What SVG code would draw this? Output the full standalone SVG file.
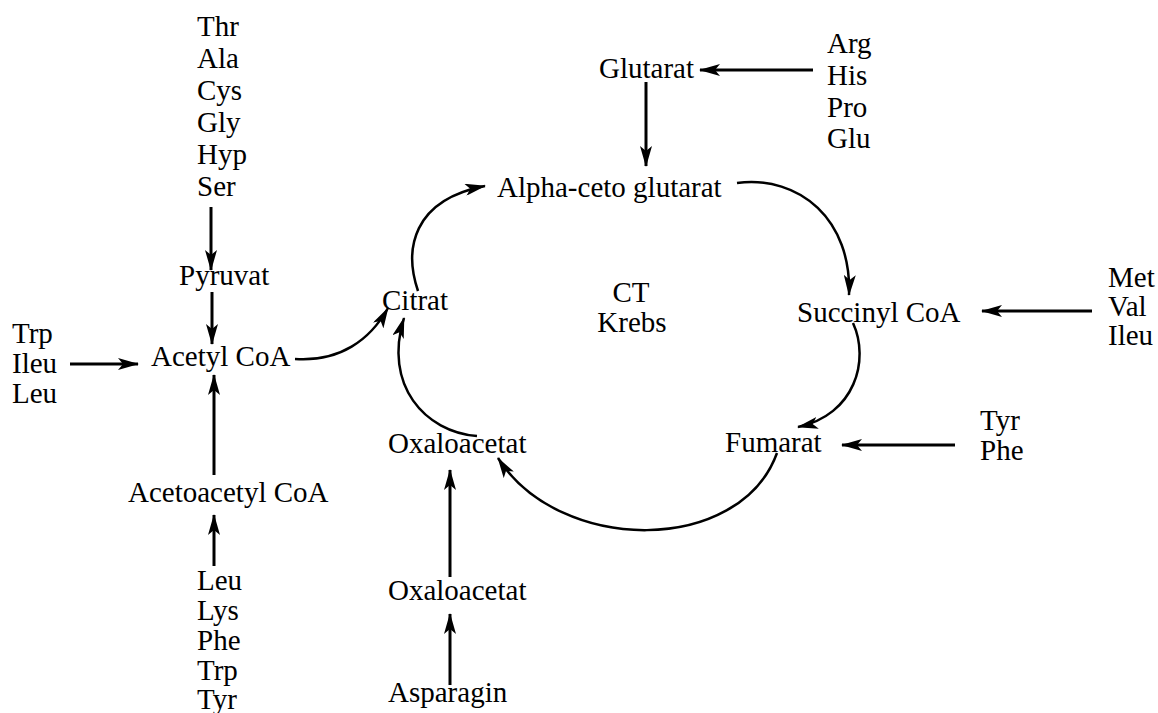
<svg xmlns="http://www.w3.org/2000/svg" width="1158" height="713" viewBox="0 0 1158 713">
<defs>
<style>
text{font-family:"Liberation Serif","Times New Roman",serif;font-size:29px;fill:#000}
.ln{fill:none;stroke:#000;stroke-width:3}
.cv{fill:none;stroke:#000;stroke-width:2.5}
</style>
<marker id="ah" markerUnits="userSpaceOnUse" markerWidth="22" markerHeight="12" refX="20" refY="6" orient="auto" viewBox="0 0 22 12">
<path d="M0,0 L21,6 L0,12 L5,6 Z" fill="#000"/>
</marker>
</defs>
<rect width="1158" height="713" fill="#fff"/>
<g id="connectors">
<line class="ln" x1="211" y1="207" x2="211" y2="270" marker-end="url(#ah)"/>
<line class="ln" x1="212" y1="292" x2="212" y2="344" marker-end="url(#ah)"/>
<line class="ln" x1="70" y1="364" x2="138" y2="364" marker-end="url(#ah)"/>
<line class="ln" x1="214" y1="475" x2="214" y2="375" marker-end="url(#ah)"/>
<line class="ln" x1="214" y1="566" x2="214" y2="515" marker-end="url(#ah)"/>
<line class="ln" x1="813" y1="70" x2="700" y2="70" marker-end="url(#ah)"/>
<line class="ln" x1="646" y1="82" x2="646" y2="166" marker-end="url(#ah)"/>
<line class="ln" x1="1092" y1="311" x2="982" y2="311" marker-end="url(#ah)"/>
<line class="ln" x1="955" y1="445" x2="842" y2="445" marker-end="url(#ah)"/>
<line class="ln" x1="450" y1="577" x2="450" y2="470" marker-end="url(#ah)"/>
<line class="ln" x1="450" y1="685" x2="450" y2="614" marker-end="url(#ah)"/>
<path class="cv" d="M295,359 C340,362 370,340 388,308" marker-end="url(#ah)"/>
<path class="cv" d="M418,291 C404,250 412,200 485,186" marker-end="url(#ah)"/>
<path class="cv" d="M737,183 C800,175 852,220 849,295" marker-end="url(#ah)"/>
<path class="cv" d="M853,323 C870,360 855,415 798,427" marker-end="url(#ah)"/>
<path class="cv" d="M777,453 C740,555 560,555 498,458" marker-end="url(#ah)"/>
<path class="cv" d="M477,436 C425,432 383,385 404,318" marker-end="url(#ah)"/>
</g>
<g id="thr-list"><text x="197" y="36">Thr</text><text x="197" y="68">Ala</text><text x="197" y="100">Cys</text><text x="197" y="132">Gly</text><text x="197" y="164">Hyp</text><text x="197" y="196">Ser</text></g>
<g id="pyruvat"><text x="179" y="285">Pyruvat</text></g>
<g id="trp-list"><text x="12" y="343">Trp</text><text x="12" y="373">Ileu</text><text x="12" y="403">Leu</text></g>
<g id="acetyl"><text x="151" y="366">Acetyl CoA</text></g>
<g id="acetoacetyl"><text x="128" y="502">Acetoacetyl CoA</text></g>
<g id="leu-list"><text x="197" y="590">Leu</text><text x="197" y="620">Lys</text><text x="197" y="650">Phe</text><text x="197" y="680">Trp</text><text x="197" y="709">Tyr</text></g>
<g id="glutarat"><text x="599" y="78">Glutarat</text></g>
<g id="arg-list"><text x="827" y="53">Arg</text><text x="827" y="85">His</text><text x="827" y="117">Pro</text><text x="827" y="148">Glu</text></g>
<g id="alpha"><text x="497" y="197">Alpha-ceto glutarat</text></g>
<g id="citrat"><text x="382" y="310">Citrat</text></g>
<g id="ct"><text x="631" y="302" text-anchor="middle">CT</text><text x="632" y="332" text-anchor="middle">Krebs</text></g>
<g id="succinyl"><text x="797" y="322">Succinyl CoA</text></g>
<g id="met-list"><text x="1108" y="287">Met</text><text x="1108" y="316">Val</text><text x="1108" y="345">Ileu</text></g>
<g id="fumarat"><text x="725" y="452">Fumarat</text></g>
<g id="tyr-list"><text x="980" y="430">Tyr</text><text x="980" y="460">Phe</text></g>
<g id="oxalo1"><text x="388" y="453">Oxaloacetat</text></g>
<g id="oxalo2"><text x="388" y="600">Oxaloacetat</text></g>
<g id="asparagin"><text x="388" y="702">Asparagin</text></g>
</svg>
